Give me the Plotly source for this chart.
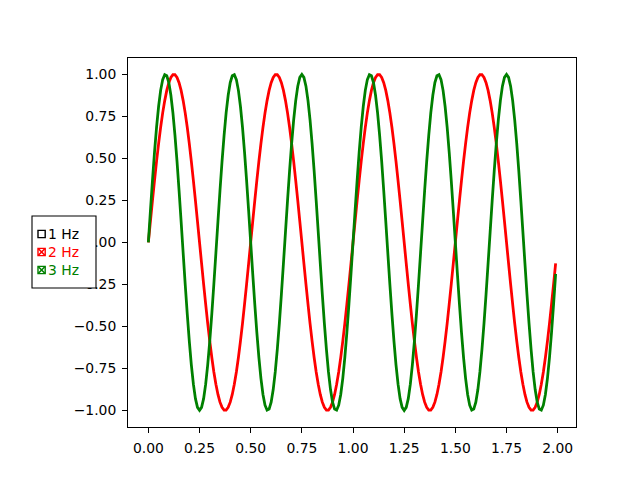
import plotly.graph_objects as go

t = [
 0.00, 0.01, 0.02, 0.03, 0.04, 0.05, 0.06, 0.07, 0.08, 0.09,
 0.10, 0.11, 0.12, 0.13, 0.14, 0.15, 0.16, 0.17, 0.18, 0.19,
 0.20, 0.21, 0.22, 0.23, 0.24, 0.25, 0.26, 0.27, 0.28, 0.29,
 0.30, 0.31, 0.32, 0.33, 0.34, 0.35, 0.36, 0.37, 0.38, 0.39,
 0.40, 0.41, 0.42, 0.43, 0.44, 0.45, 0.46, 0.47, 0.48, 0.49,
 0.50, 0.51, 0.52, 0.53, 0.54, 0.55, 0.56, 0.57, 0.58, 0.59,
 0.60, 0.61, 0.62, 0.63, 0.64, 0.65, 0.66, 0.67, 0.68, 0.69,
 0.70, 0.71, 0.72, 0.73, 0.74, 0.75, 0.76, 0.77, 0.78, 0.79,
 0.80, 0.81, 0.82, 0.83, 0.84, 0.85, 0.86, 0.87, 0.88, 0.89,
 0.90, 0.91, 0.92, 0.93, 0.94, 0.95, 0.96, 0.97, 0.98, 0.99,
 1.00, 1.01, 1.02, 1.03, 1.04, 1.05, 1.06, 1.07, 1.08, 1.09,
 1.10, 1.11, 1.12, 1.13, 1.14, 1.15, 1.16, 1.17, 1.18, 1.19,
 1.20, 1.21, 1.22, 1.23, 1.24, 1.25, 1.26, 1.27, 1.28, 1.29,
 1.30, 1.31, 1.32, 1.33, 1.34, 1.35, 1.36, 1.37, 1.38, 1.39,
 1.40, 1.41, 1.42, 1.43, 1.44, 1.45, 1.46, 1.47, 1.48, 1.49,
 1.50, 1.51, 1.52, 1.53, 1.54, 1.55, 1.56, 1.57, 1.58, 1.59,
 1.60, 1.61, 1.62, 1.63, 1.64, 1.65, 1.66, 1.67, 1.68, 1.69,
 1.70, 1.71, 1.72, 1.73, 1.74, 1.75, 1.76, 1.77, 1.78, 1.79,
 1.80, 1.81, 1.82, 1.83, 1.84, 1.85, 1.86, 1.87, 1.88, 1.89,
 1.90, 1.91, 1.92, 1.93, 1.94, 1.95, 1.96, 1.97, 1.98, 1.99,
]

s_2hz = [
 0, .125, .249, .368, .482, .588, .685, .771, .844, .905,
 .951, .982, .998, .998, .982, .951, .905, .844, .771, .685,
 .588, .482, .368, .249, .125, 0, -.125, -.249, -.368, -.482,
 -.588, -.685, -.771, -.844, -.905, -.951, -.982, -.998, -.998, -.982,
 -.951, -.905, -.844, -.771, -.685, -.588, -.482, -.368, -.249, -.125,
 0, .125, .249, .368, .482, .588, .685, .771, .844, .905,
 .951, .982, .998, .998, .982, .951, .905, .844, .771, .685,
 .588, .482, .368, .249, .125, 0, -.125, -.249, -.368, -.482,
 -.588, -.685, -.771, -.844, -.905, -.951, -.982, -.998, -.998, -.982,
 -.951, -.905, -.844, -.771, -.685, -.588, -.482, -.368, -.249, -.125,
 0, .125, .249, .368, .482, .588, .685, .771, .844, .905,
 .951, .982, .998, .998, .982, .951, .905, .844, .771, .685,
 .588, .482, .368, .249, .125, 0, -.125, -.249, -.368, -.482,
 -.588, -.685, -.771, -.844, -.905, -.951, -.982, -.998, -.998, -.982,
 -.951, -.905, -.844, -.771, -.685, -.588, -.482, -.368, -.249, -.125,
 0, .125, .249, .368, .482, .588, .685, .771, .844, .905,
 .951, .982, .998, .998, .982, .951, .905, .844, .771, .685,
 .588, .482, .368, .249, .125, 0, -.125, -.249, -.368, -.482,
 -.588, -.685, -.771, -.844, -.905, -.951, -.982, -.998, -.998, -.982,
 -.951, -.905, -.844, -.771, -.685, -.588, -.482, -.368, -.249, -.125,
]

s_3hz = [
 0, .187, .368, .536, .685, .809, .905, .969, .998, .992,
 .951, .876, .771, .637, .482, .309, .125, -.063, -.249, -.426,
 -.588, -.729, -.844, -.930, -.982, -1, -.982, -.930, -.844, -.729,
 -.588, -.426, -.249, -.063, .125, .309, .482, .637, .771, .876,
 .951, .992, .998, .969, .905, .809, .685, .536, .368, .187,
 0, -.187, -.368, -.536, -.685, -.809, -.905, -.969, -.998, -.992,
 -.951, -.876, -.771, -.637, -.482, -.309, -.125, .063, .249, .426,
 .588, .729, .844, .930, .982, 1, .982, .930, .844, .729,
 .588, .426, .249, .063, -.125, -.309, -.482, -.637, -.771, -.876,
 -.951, -.992, -.998, -.969, -.905, -.809, -.685, -.536, -.368, -.187,
 0, .187, .368, .536, .685, .809, .905, .969, .998, .992,
 .951, .876, .771, .637, .482, .309, .125, -.063, -.249, -.426,
 -.588, -.729, -.844, -.930, -.982, -1, -.982, -.930, -.844, -.729,
 -.588, -.426, -.249, -.063, .125, .309, .482, .637, .771, .876,
 .951, .992, .998, .969, .905, .809, .685, .536, .368, .187,
 0, -.187, -.368, -.536, -.685, -.809, -.905, -.969, -.998, -.992,
 -.951, -.876, -.771, -.637, -.482, -.309, -.125, .063, .249, .426,
 .588, .729, .844, .930, .982, 1, .982, .930, .844, .729,
 .588, .426, .249, .063, -.125, -.309, -.482, -.637, -.771, -.876,
 -.951, -.992, -.998, -.969, -.905, -.809, -.685, -.536, -.368, -.187,
]

labels = ["1 Hz", "2 Hz", "3 Hz"]
colors = ["black", "red", "green"]
actives = [False, True, True]

x_ticks = [0.0, 0.25, 0.5, 0.75, 1.0, 1.25, 1.5, 1.75, 2.0]
x_ticktext = ["0.00", "0.25", "0.50", "0.75", "1.00", "1.25", "1.50", "1.75", "2.00"]
y_ticks = [-1.0, -0.75, -0.5, -0.25, 0.0, 0.25, 0.5, 0.75, 1.0]
y_ticktext = ["\u22121.00", "\u22120.75", "\u22120.50", "\u22120.25", "0.00",
              "0.25", "0.50", "0.75", "1.00"]

FONT = "DejaVu Sans"
FS = 13.9

fig = go.Figure()
fig.add_trace(go.Scatter(x=t, y=s_2hz, mode="lines", name="2 Hz",
                         line=dict(color="red", width=2.78, simplify=False)))
fig.add_trace(go.Scatter(x=t, y=s_3hz, mode="lines", name="3 Hz",
                         line=dict(color="green", width=2.78, simplify=False)))

axis_common = dict(showline=True, mirror=True, linecolor="black", linewidth=1.1,
                   ticks="outside", ticklen=4.9, tickwidth=1.1, tickcolor="black",
                   showgrid=False, zeroline=False,
                   tickfont=dict(family=FONT, size=FS, color="black"))

fig.update_layout(
    width=640, height=480,
    margin=dict(l=0, r=0, t=0, b=0),
    paper_bgcolor="white", plot_bgcolor="white",
    showlegend=False,
    font=dict(family=FONT, size=FS, color="black"),
    xaxis=dict(domain=[0.2, 0.9], range=[-0.0995, 2.0895],
               tickvals=x_ticks, ticktext=x_ticktext, ticklabelstandoff=3,
               **axis_common),
    yaxis=dict(domain=[0.11, 0.88], range=[-1.1, 1.1],
               tickvals=y_ticks, ticktext=y_ticktext, ticklabelstandoff=3,
               **axis_common),
)

# Check-button panel (paper coordinates == figure fractions because margins are 0)
bx0, bx1, by0, by1 = 0.05, 0.15, 0.40, 0.55
shapes = [dict(type="rect", xref="paper", yref="paper", x0=bx0, x1=bx1, y0=by0, y1=by1,
               fillcolor="white", line=dict(color="black", width=1.1), layer="above")]
annotations = []
row_fracs = [0.75, 0.5, 0.25]
hx = 3.6 / 640
hy = 3.6 / 480
cx = bx0 + 0.15 * (bx1 - bx0)
for lab, col, act, rf in zip(labels, colors, actives, row_fracs):
    cy = by0 + rf * (by1 - by0)
    shapes.append(dict(type="rect", xref="paper", yref="paper",
                       x0=cx - hx, x1=cx + hx, y0=cy - hy, y1=cy + hy,
                       fillcolor="white", line=dict(color=col, width=1.4), layer="above"))
    if act:
        dx = 3.2 / 640
        dy = 3.2 / 480
        shapes.append(dict(type="line", xref="paper", yref="paper",
                           x0=cx - dx, x1=cx + dx, y0=cy - dy, y1=cy + dy,
                           line=dict(color=col, width=1.6), layer="above"))
        shapes.append(dict(type="line", xref="paper", yref="paper",
                           x0=cx - dx, x1=cx + dx, y0=cy + dy, y1=cy - dy,
                           line=dict(color=col, width=1.6), layer="above"))
    annotations.append(dict(xref="paper", yref="paper", x=bx0 + 0.25 * (bx1 - bx0), y=cy,
                            text=lab, showarrow=False, xanchor="left", yanchor="middle",
                            xshift=-2, font=dict(family=FONT, size=FS, color=col)))

fig.update_layout(shapes=shapes, annotations=annotations)

fig.write_html("out.html")
